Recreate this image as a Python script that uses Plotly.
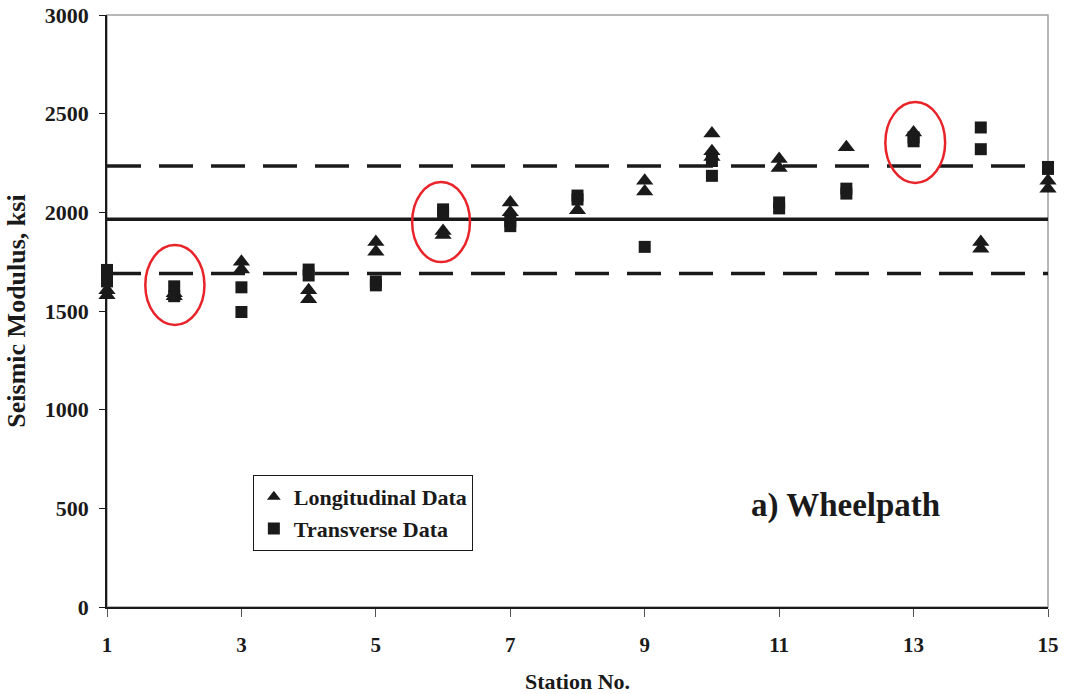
import plotly.graph_objects as go

# Data
long_station = [1, 1, 2, 2, 3, 3, 4, 4, 5, 5, 6, 6, 7, 7, 8, 9, 9, 10, 10, 10, 11, 11, 12, 13, 14, 14, 15, 15]
long_value = [1605, 1580, 1590, 1575, 1750, 1710, 1605, 1560, 1850, 1800, 1905, 1885, 2050, 2000, 2010, 2160, 2105, 2400, 2310, 2280, 2270, 2225, 2330, 2405, 1850, 1815, 2160, 2120]

trans_station = [1, 1, 2, 2, 3, 3, 4, 4, 5, 5, 6, 6, 7, 7, 8, 8, 9, 10, 10, 11, 11, 12, 12, 13, 13, 14, 14, 15, 15]
trans_value = [1708, 1650, 1625, 1575, 1620, 1495, 1710, 1680, 1650, 1630, 2015, 1995, 1955, 1930, 2085, 2065, 1825, 2260, 2185, 2050, 2020, 2120, 2095, 2380, 2360, 2430, 2320, 2230, 2220]

mean_value = 1965
upper_value = 2235
lower_value = 1690
x_range = [1, 15]

circle_x = [(1.57, 2.45), (5.54, 6.40), (12.58, 13.47)]
circle_y = [(1429, 1834), (1748, 2154), (2149, 2559)]

x_ticks = [1, 3, 5, 7, 9, 11, 13, 15]
y_ticks = [0, 500, 1000, 1500, 2000, 2500, 3000]

font_family = "Liberation Serif"

fig = go.Figure()

fig.add_trace(go.Scatter(x=x_range, y=[mean_value, mean_value], mode="lines",
                         line=dict(color="#1a1a1a", width=3.5), showlegend=False, hoverinfo="skip"))
fig.add_trace(go.Scatter(x=x_range, y=[upper_value, upper_value], mode="lines",
                         line=dict(color="#1a1a1a", width=3.5, dash="34px,18px"), showlegend=False, hoverinfo="skip"))
fig.add_trace(go.Scatter(x=x_range, y=[lower_value, lower_value], mode="lines",
                         line=dict(color="#1a1a1a", width=3.5, dash="34px,18px"), showlegend=False, hoverinfo="skip"))

fig.add_trace(go.Scatter(x=long_station, y=long_value, mode="markers", name="<b>Longitudinal Data</b>",
                         marker=dict(symbol="triangle-up", size=15, color="#1a1a1a"), cliponaxis=False))
fig.add_trace(go.Scatter(x=trans_station, y=trans_value, mode="markers", name="<b>Transverse Data</b>",
                         marker=dict(symbol="square", size=12, color="#1a1a1a"), cliponaxis=False))

# Gray frame (top/right)
fig.add_shape(type="rect", xref="paper", yref="paper", x0=0, x1=1, y0=0, y1=1,
              line=dict(color="#a0a0a0", width=1.5), layer="below")

for (cx0, cx1), (cy0, cy1) in zip(circle_x, circle_y):
    fig.add_shape(type="circle", xref="x", yref="y", x0=cx0, x1=cx1, y0=cy0, y1=cy1,
                  line=dict(color="#e8242a", width=2.5))

fig.add_annotation(text="<b>a) Wheelpath</b>", xref="paper", yref="paper", x=0.785, y=0.172,
                   showarrow=False, font=dict(family=font_family, size=33, color="#1a1a1a"),
                   xanchor="center", yanchor="middle")

fig.update_layout(
    width=1067, height=694,
    margin=dict(l=107, r=19, t=15, b=87, autoexpand=False),
    paper_bgcolor="white", plot_bgcolor="white",
    font=dict(family=font_family, size=17, color="#1a1a1a"),
    legend=dict(x=0.155, y=0.223, xanchor="left", yanchor="top",
                bgcolor="white", bordercolor="#1a1a1a", borderwidth=1,
                font=dict(family=font_family, size=22, color="#1a1a1a"),
                itemsizing="constant", tracegroupgap=0),
)

fig.update_xaxes(range=x_range, tickvals=x_ticks, ticktext=[f"<b>{v}</b>" for v in x_ticks],
                 showgrid=False, zeroline=False, showline=True, linecolor="#1a1a1a", linewidth=1.5,
                 ticks="outside", ticklen=8, tickcolor="#555", tickfont=dict(size=21),
                 ticklabelstandoff=10, automargin=False, ticklabeloverflow="allow",
                 title=dict(text="<b>Station No.</b>", font=dict(size=22), standoff=27))
fig.update_yaxes(range=[0, 3000], tickvals=y_ticks, ticktext=[f"<b>{v}</b>" for v in y_ticks],
                 showgrid=False, zeroline=False, showline=True, linecolor="#1a1a1a", linewidth=1.5,
                 ticks="outside", ticklen=6, tickcolor="#1a1a1a", tickfont=dict(size=22),
                 ticklabelstandoff=6, automargin=False, ticklabeloverflow="allow",
                 title=dict(text="<b>Seismic Modulus, ksi</b>", font=dict(size=26), standoff=12))

fig.write_html("out.html", config={"displayModeBar": False},
               post_script="document.body.style.margin='0';")
